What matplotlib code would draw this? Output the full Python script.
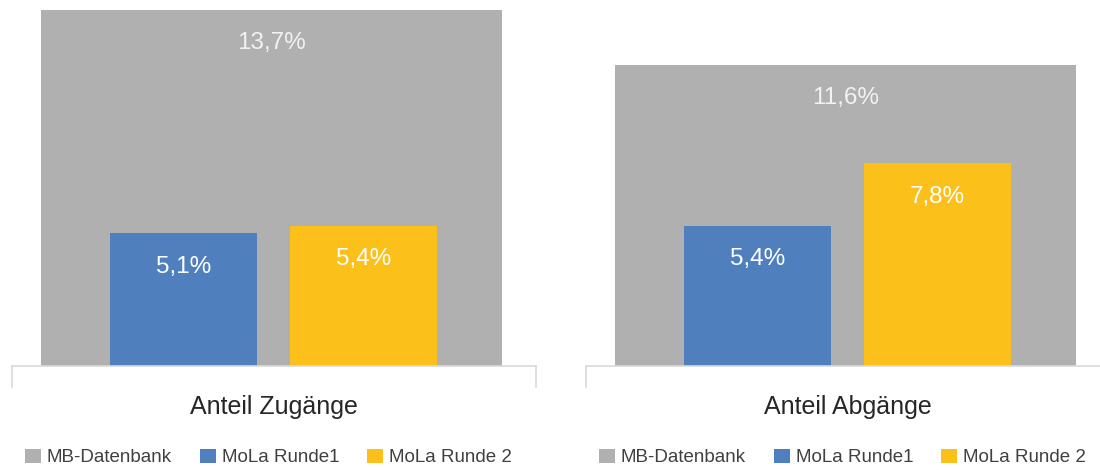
import matplotlib
matplotlib.use('Agg')
import matplotlib.pyplot as plt
from matplotlib.patches import Patch

plt.rcParams['font.family'] = ['Liberation Sans', 'DejaVu Sans']

CATEGORIES = ['Anteil Zugänge', 'Anteil Abgänge']
SERIES = ['MB-Datenbank', 'MoLa Runde1', 'MoLa Runde 2']
MB_DATENBANK = [13.7, 11.6]
MOLA_RUNDE1 = [5.1, 5.4]
MOLA_RUNDE2 = [5.4, 7.8]

COLORS = ['#B0B0B0', '#4F80BD', '#FCC01B']
AXIS_GREY = '#D9D9D9'
YMAX = 13.7


def fmt(v):
    return f'{v:.1f}%'.replace('.', ',')


def draw_panel(ax, cat, mb, r1, r2):
    ax.bar(-0.005, mb, width=0.88, color=COLORS[0], zorder=1)
    ax.bar(-0.173, r1, width=0.281, color=COLORS[1], zorder=2)
    ax.bar(0.171, r2, width=0.281, color=COLORS[2], zorder=2)

    for x, v, c in [(-0.005, mb, '#F2F2F2'), (-0.173, r1, 'white'), (0.171, r2, 'white')]:
        ax.annotate(fmt(v), (x, v), xytext=(0, -24), textcoords='offset points',
                    ha='center', va='center', fontsize=17.5, color=c, zorder=3)

    ax.set_xlim(-0.5, 0.5)
    ax.set_ylim(0, YMAX)
    for s in ['top', 'right', 'left']:
        ax.spines[s].set_visible(False)
    ax.spines['bottom'].set_color(AXIS_GREY)
    ax.spines['bottom'].set_linewidth(1.2)
    ax.set_yticks([])
    ax.set_xticks([0])
    ax.set_xticklabels([cat], fontsize=18, color='#262626')
    ax.tick_params(axis='x', length=0, pad=21)
    for xe in (-0.5, 0.5):
        ax.plot([xe, xe], [0, -0.8], color=AXIS_GREY, lw=1.2, clip_on=False)

    handles = [Patch(facecolor=c, edgecolor='none') for c in COLORS]
    ax.legend(handles, SERIES, loc='center', bbox_to_anchor=(0.4895, -0.257),
              ncol=3, frameon=False, fontsize=13.5, handlelength=0.85,
              handleheight=0.85, handletextpad=0.3, columnspacing=1.5,
              labelcolor='#404040', borderpad=0, borderaxespad=0)


fig = plt.figure(figsize=(11, 4.7), dpi=100)
ax1 = fig.add_axes([12 / 1100, 104 / 470, 524 / 1100, 356 / 470])
ax2 = fig.add_axes([586 / 1100, 104 / 470, 524 / 1100, 356 / 470])

for ax, cat, mb, r1, r2 in zip([ax1, ax2], CATEGORIES, MB_DATENBANK, MOLA_RUNDE1, MOLA_RUNDE2):
    draw_panel(ax, cat, mb, r1, r2)

fig.savefig('out.png', dpi=100)
